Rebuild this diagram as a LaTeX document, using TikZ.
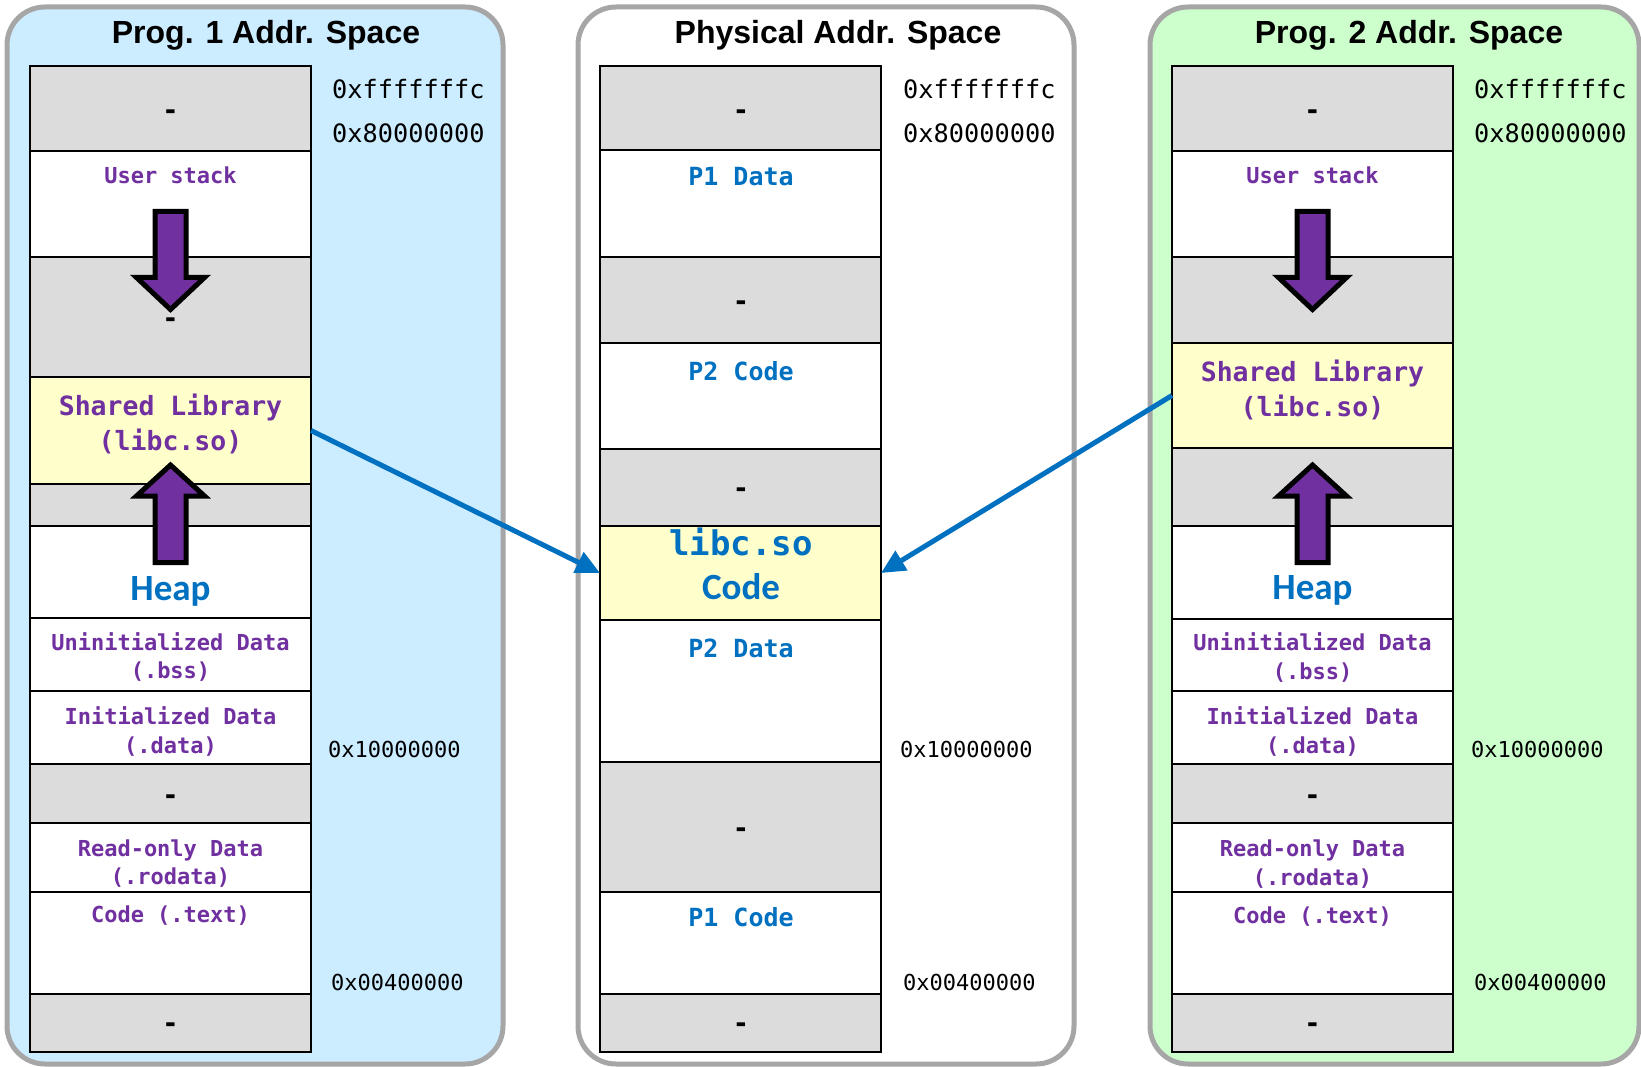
\documentclass[tikz,border=0pt]{standalone}
\usepackage{fontspec}
\setmainfont{Liberation Sans}
\newfontfamily\mymono{DejaVu Sans Mono}
\newfontfamily\mycal{Carlito}
\usetikzlibrary{arrows.meta}
\definecolor{panelgray}{HTML}{A6A6A6}
\definecolor{pabg}{HTML}{CCECFF}
\definecolor{pbbg}{HTML}{CCFFCC}
\definecolor{rowgray}{HTML}{DCDCDC}
\definecolor{rowyellow}{HTML}{FFFFCC}
\definecolor{purp}{HTML}{7030A0}
\definecolor{myblue}{HTML}{0070C0}
\newcommand\stackarrowat[1]{%
  \draw[blockarrow] ({#1-15.5},211.5) -- ({#1+15.5},211.5) -- ({#1+15.5},277.5) -- ({#1+34},277.5) -- (#1,309.5) -- ({#1-34},277.5) -- ({#1-15.5},277.5) -- cycle;}
\newcommand\heaparrowat[1]{%
  \draw[blockarrow] ({#1-15.5},562.5) -- ({#1+15.5},562.5) -- ({#1+15.5},496) -- ({#1+34},496) -- (#1,465) -- ({#1-34},496) -- ({#1-15.5},496) -- cycle;}
\begin{document}
\begin{tikzpicture}[x=1pt,y=-1pt,
 panel/.style={draw=panelgray, line width=5pt, rounded corners=38pt},
 seg/.style={draw=black, line width=2pt, inner sep=0pt, outer sep=0pt, minimum width=281pt, anchor=north west},
 free/.style={seg, fill=rowgray},
 used/.style={seg, fill=white},
 lib/.style={seg, fill=rowyellow},
 title/.style={font=\bfseries\fontsize{32}{38}\selectfont, anchor=base, inner sep=0pt},
 addr/.style={font=\mymono\fontsize{25.3}{30}\selectfont, anchor=base west, inner sep=0pt},
 addrs/.style={font=\mymono\fontsize{22}{27}\selectfont, anchor=base west, inner sep=0pt},
 dashlbl/.style={font=\mymono\bfseries\fontsize{27}{30}\selectfont, anchor=base, inner sep=0pt},
 seclbl/.style={font=\mymono\bfseries\fontsize{22}{26}\selectfont, text=purp, anchor=base, inner sep=0pt},
 liblbl/.style={font=\mymono\bfseries\fontsize{26.5}{30}\selectfont, text=purp, anchor=base, inner sep=0pt},
 physlbl/.style={font=\mymono\bfseries\fontsize{25}{30}\selectfont, text=myblue, anchor=base, inner sep=0pt},
 biglbl/.style={font=\mymono\bfseries\fontsize{34}{40}\selectfont, text=myblue, anchor=base, inner sep=0pt},
 heaplbl/.style={font=\mycal\bfseries\fontsize{37}{42}\selectfont, text=myblue, anchor=base, inner sep=0pt},
 blockarrow/.style={fill=purp, draw=black, line width=5pt, miter limit=10},
 map/.style={draw=myblue, line width=5pt, -{Triangle[length=24pt,width=22pt]}}
]
\useasboundingbox (0,0) rectangle (1641,1067);

% panels
\draw[panel, fill=pabg] (7,7) rectangle (503,1064);
\draw[panel, fill=white] (578,7) rectangle (1074,1064);
\draw[panel, fill=pbbg] (1150,7) rectangle (1639,1064);

\node[title] (t1) at (266,44) {Prog. 1 Addr. Space};
\node[title] (t2) at (838,44) {Physical Addr. Space};
\node[title] (t3) at (1409,44) {Prog. 2 Addr. Space};

% ---------- Program 1 ----------
\node[free, minimum height=85pt]  (p1r1)  at (30,66) {};
\node[used, minimum height=106pt] (p1r2)  at (30,151) {};
\node[free, minimum height=120pt] (p1r3)  at (30,257) {};
\node[lib,  minimum height=107pt] (p1lib) at (30,377) {};
\node[free, minimum height=42pt]  (p1r5)  at (30,484) {};
\node[used, minimum height=92pt]  (p1r6)  at (30,526) {};
\node[used, minimum height=73pt]  (p1r7)  at (30,618) {};
\node[used, minimum height=73pt]  (p1r8)  at (30,691) {};
\node[free, minimum height=59pt]  (p1r9)  at (30,764) {};
\node[used, minimum height=69pt]  (p1r10) at (30,823) {};
\node[used, minimum height=102pt] (p1r11) at (30,892) {};
\node[free, minimum height=58pt]  (p1r12) at (30,994) {};

\node[addr]  (p1a1) at (332,98.5) {0xfffffffc};
\node[addr]  (p1a2) at (332,142.5) {0x80000000};
\node[addrs] (p1a3) at (328,757) {0x10000000};
\node[addrs] (p1a4) at (331,990) {0x00400000};

\node[dashlbl] (p1d1) at (170.5,119.5) {-};
\node[dashlbl] (p1d2) at (170.5,327.5) {-};
\node[dashlbl] (p1d3) at (170.5,804.5) {-};
\node[dashlbl] (p1d4) at (170.5,1032.5) {-};

\node[seclbl]  (p1s1)  at (170.5,184) {User stack};
\node[liblbl]  (p1s2)  at (170.5,415) {Shared Library};
\node[liblbl]  (p1s3)  at (170.5,450) {(libc.so)};
\node[heaplbl] (p1s4)  at (170.5,600) {Heap};
\node[seclbl]  (p1s5)  at (170.5,650) {Uninitialized Data};
\node[seclbl]  (p1s6)  at (170.5,678) {(.bss)};
\node[seclbl]  (p1s7)  at (170.5,724) {Initialized Data};
\node[seclbl]  (p1s8)  at (170.5,753) {(.data)};
\node[seclbl]  (p1s9)  at (170.5,856) {Read-only Data};
\node[seclbl]  (p1s10) at (170.5,884) {(.rodata)};
\node[seclbl]  (p1s11) at (170.5,922) {Code (.text)};

% ---------- Physical ----------
\node[free, minimum height=84pt]  (c1)   at (600,66) {};
\node[used, minimum height=107pt] (c2)   at (600,150) {};
\node[free, minimum height=86pt]  (c3)   at (600,257) {};
\node[used, minimum height=106pt] (c4)   at (600,343) {};
\node[free, minimum height=77pt]  (c5)   at (600,449) {};
\node[lib,  minimum height=94pt]  (clib) at (600,526) {};
\node[used, minimum height=142pt] (c7)   at (600,620) {};
\node[free, minimum height=130pt] (c8)   at (600,762) {};
\node[used, minimum height=102pt] (c9)   at (600,892) {};
\node[free, minimum height=58pt]  (c10)  at (600,994) {};

\node[addr]  (ca1) at (903,98.5) {0xfffffffc};
\node[addr]  (ca2) at (903,142.5) {0x80000000};
\node[addrs] (ca3) at (900,757) {0x10000000};
\node[addrs] (ca4) at (903,990) {0x00400000};

\node[dashlbl] (cd1) at (741,119.5) {-};
\node[dashlbl] (cd2) at (741,310.5) {-};
\node[dashlbl] (cd3) at (741,497.5) {-};
\node[dashlbl] (cd4) at (741,837.5) {-};
\node[dashlbl] (cd5) at (741,1032.5) {-};

\node[physlbl] (cs1) at (741,186) {P1 Data};
\node[physlbl] (cs2) at (741,380) {P2 Code};
\node[biglbl]  (cs3) at (741,555) {libc.so};
\node[heaplbl] (cs4) at (741,599) {Code};
\node[physlbl] (cs5) at (741,657) {P2 Data};
\node[physlbl] (cs6) at (741,926) {P1 Code};

% ---------- Program 2 ----------
\node[free, minimum height=85pt]  (q1)   at (1172,66) {};
\node[used, minimum height=106pt] (q2)   at (1172,151) {};
\node[free, minimum height=86pt]  (q3)   at (1172,257) {};
\node[lib,  minimum height=105pt] (qlib) at (1172,343) {};
\node[free, minimum height=78pt]  (q5)   at (1172,448) {};
\node[used, minimum height=93pt]  (q6)   at (1172,526) {};
\node[used, minimum height=72pt]  (q7)   at (1172,619) {};
\node[used, minimum height=73pt]  (q8)   at (1172,691) {};
\node[free, minimum height=59pt]  (q9)   at (1172,764) {};
\node[used, minimum height=69pt]  (q10)  at (1172,823) {};
\node[used, minimum height=102pt] (q11)  at (1172,892) {};
\node[free, minimum height=58pt]  (q12)  at (1172,994) {};

\node[addr]  (qa1) at (1474,98.5) {0xfffffffc};
\node[addr]  (qa2) at (1474,142.5) {0x80000000};
\node[addrs] (qa3) at (1471,757) {0x10000000};
\node[addrs] (qa4) at (1474,990) {0x00400000};

\node[dashlbl] (qd1) at (1312.5,119.5) {-};
\node[dashlbl] (qd2) at (1312.5,804.5) {-};
\node[dashlbl] (qd3) at (1312.5,1032.5) {-};

\node[seclbl]  (qs1)  at (1312.5,184) {User stack};
\node[liblbl]  (qs2)  at (1312.5,381) {Shared Library};
\node[liblbl]  (qs3)  at (1312.5,416) {(libc.so)};
\node[heaplbl] (qs4)  at (1312.5,599) {Heap};
\node[seclbl]  (qs5)  at (1312.5,650) {Uninitialized Data};
\node[seclbl]  (qs6)  at (1312.5,679) {(.bss)};
\node[seclbl]  (qs7)  at (1312.5,724) {Initialized Data};
\node[seclbl]  (qs8)  at (1312.5,753) {(.data)};
\node[seclbl]  (qs9)  at (1312.5,856) {Read-only Data};
\node[seclbl]  (qs10) at (1312.5,885) {(.rodata)};
\node[seclbl]  (qs11) at (1312.5,923) {Code (.text)};

% growth arrows
\stackarrowat{170.5}
\heaparrowat{170.5}
\stackarrowat{1312.5}
\heaparrowat{1312.5}

% mapping connectors
\draw[map] (p1lib.east) -- (clib.west);
\draw[map] (qlib.west) -- (clib.east);
\end{tikzpicture}
\end{document}
